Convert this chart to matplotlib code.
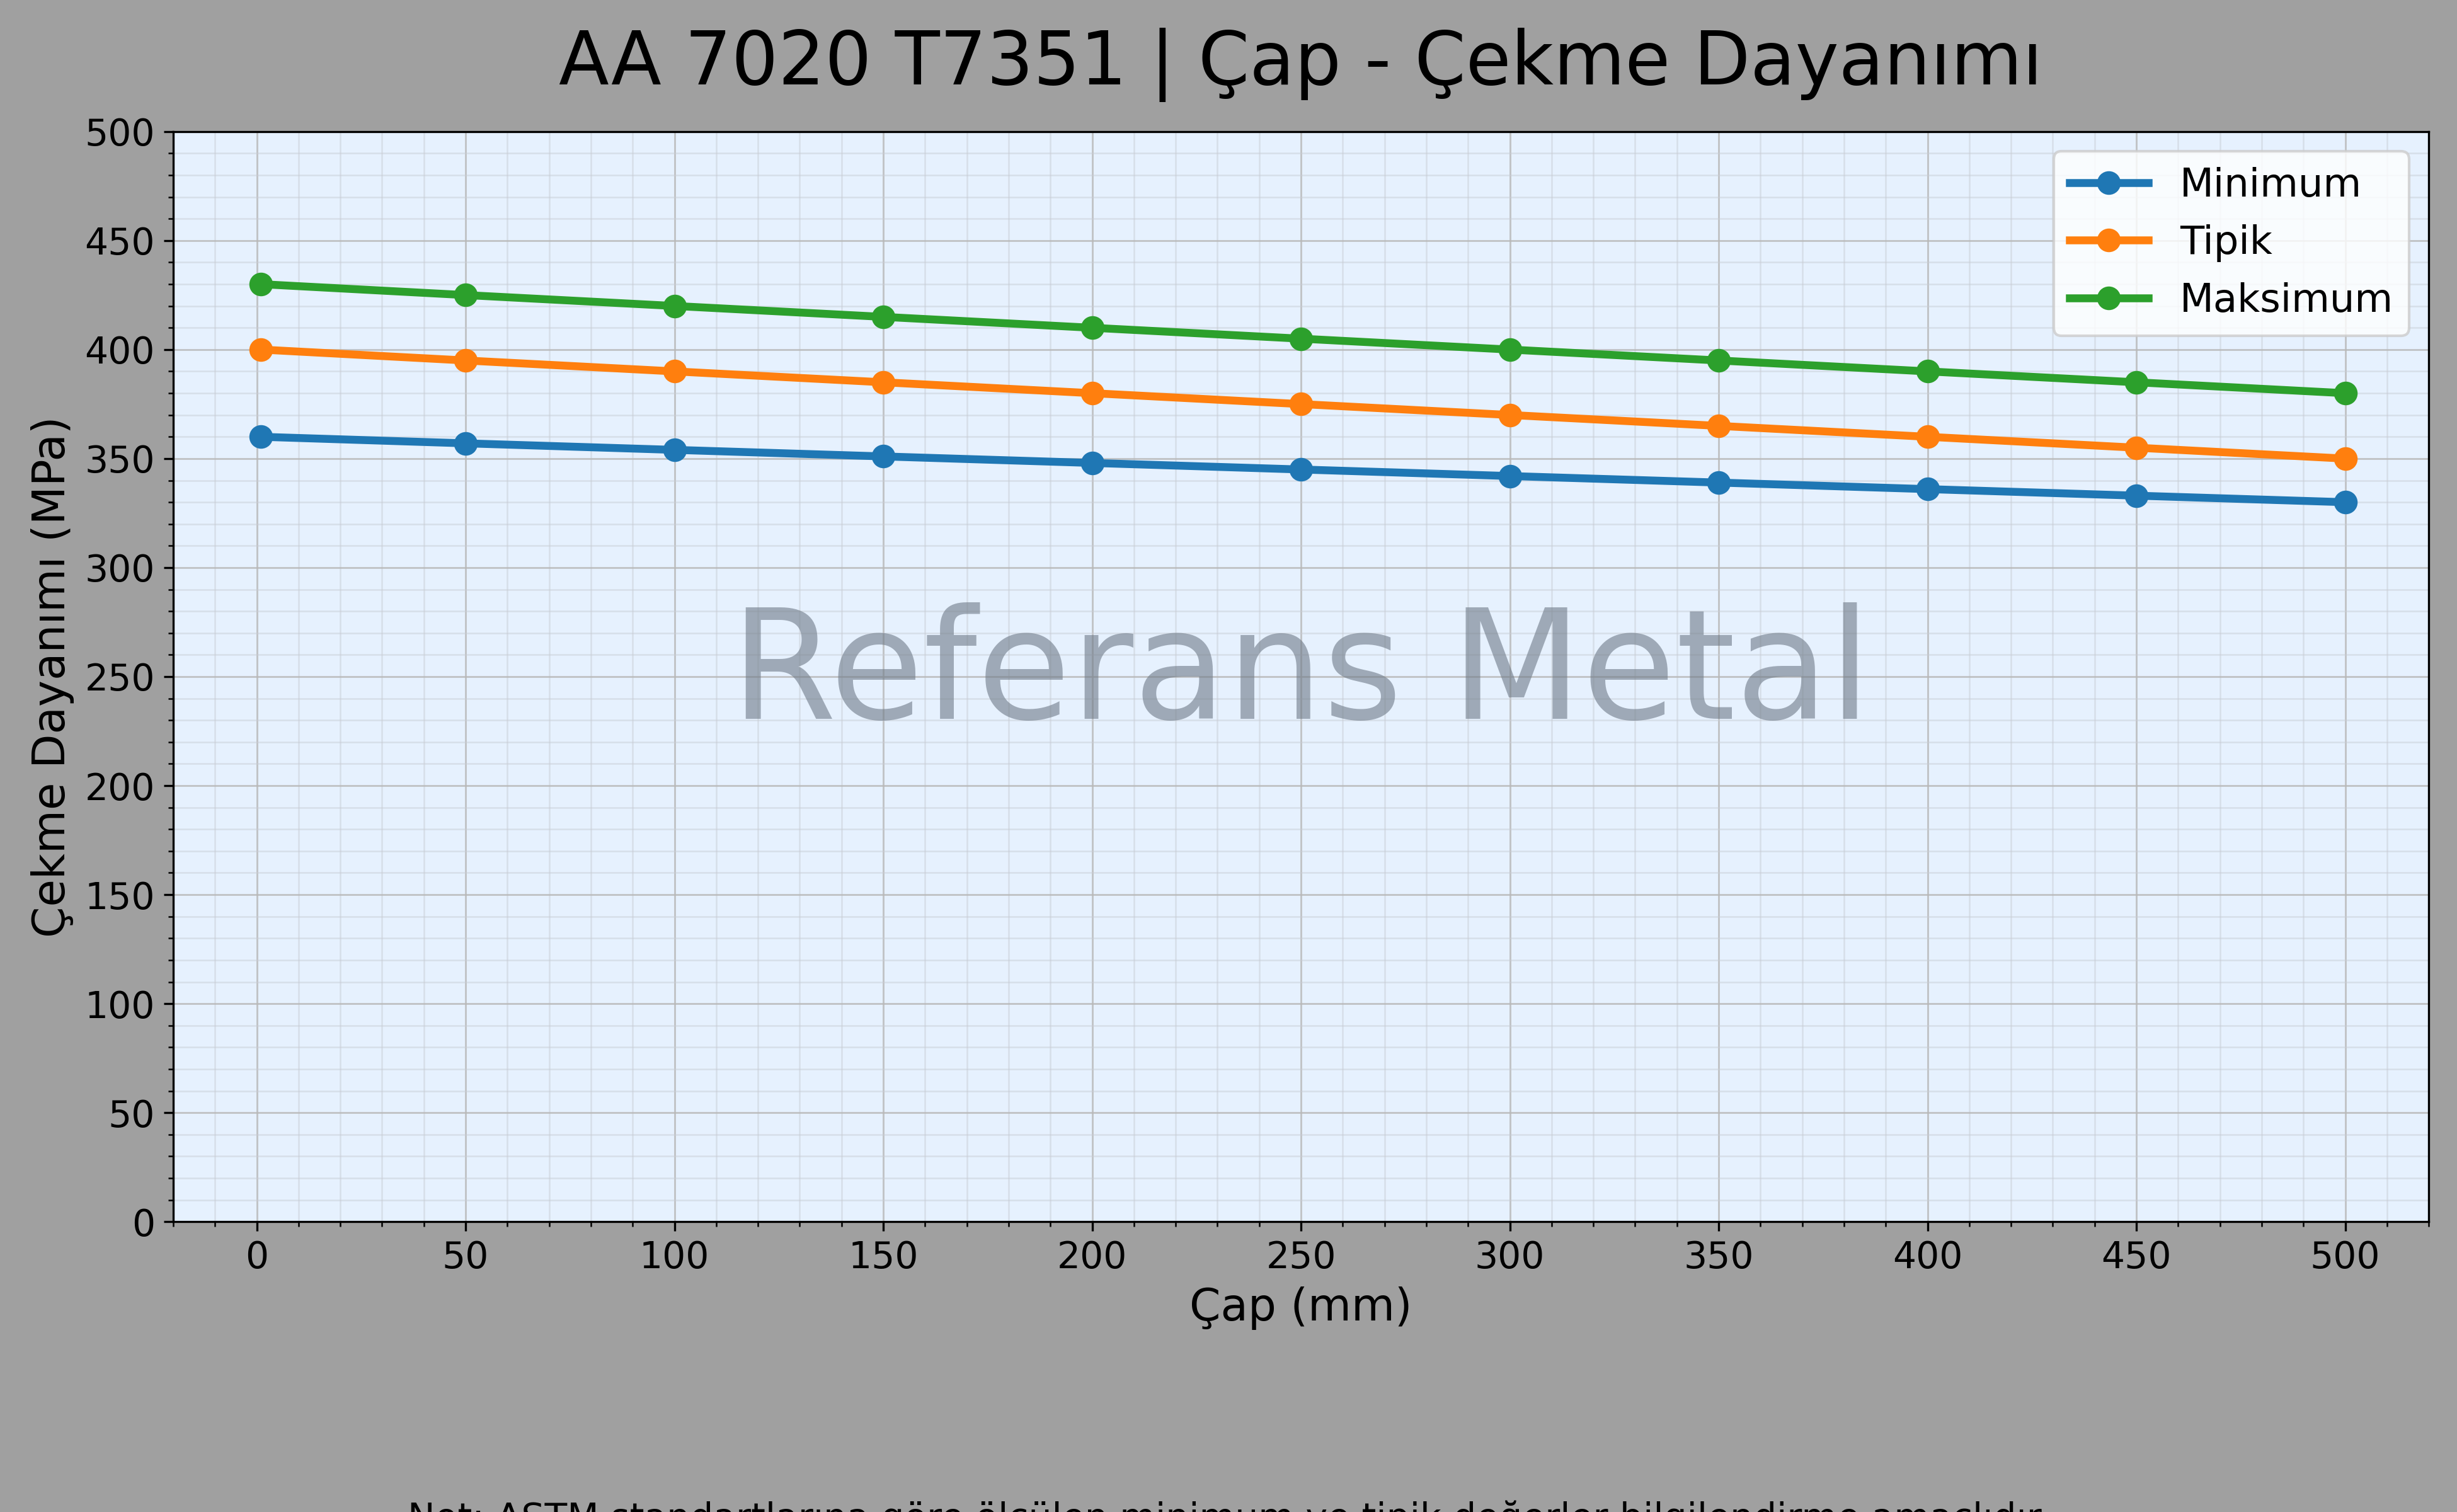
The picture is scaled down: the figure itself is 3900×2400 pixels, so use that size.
import numpy as np
import matplotlib.pyplot as plt
from matplotlib.ticker import MultipleLocator

# Çap değerleri (mm)
cap_mm = [1, 50, 100, 150, 200, 250, 300, 350, 400, 450, 500]

# Çekme dayanımı değerleri (MPa)
minimum = [360, 357, 354, 351, 348, 345, 342, 339, 336, 333, 330]
tipik = [400, 395, 390, 385, 380, 375, 370, 365, 360, 355, 350]
maksimum = [430, 425, 420, 415, 410, 405, 400, 395, 390, 385, 380]

seriler = [('Minimum', minimum, '#1f77b4'),
           ('Tipik', tipik, '#ff7f0e'),
           ('Maksimum', maksimum, '#2ca02c')]

fig = plt.figure(figsize=(13, 8), dpi=300, facecolor='#a0a0a0')
ax = fig.add_axes([0.0705, 0.192, 0.918, 0.721])
ax.set_facecolor('#e6f1fe')

for ad, degerler, renk in seriler:
    ax.plot(cap_mm, degerler, marker='o', color=renk, linewidth=3, markersize=8, label=ad, zorder=3)

ax.set_xlim(-20, 520)
ax.set_ylim(0, 500)
ax.xaxis.set_major_locator(MultipleLocator(50))
ax.yaxis.set_major_locator(MultipleLocator(50))
ax.xaxis.set_minor_locator(MultipleLocator(10))
ax.yaxis.set_minor_locator(MultipleLocator(10))
ax.grid(True, which='major', color='#b8b8b8', linewidth=0.7, alpha=0.8)
ax.grid(True, which='minor', color='#c8ccd4', linewidth=0.6, alpha=0.5)
ax.tick_params(axis='both', which='major', labelsize=14)

# Filigran
ax.text(0.5, 0.5, 'Referans Metal', transform=ax.transAxes, fontsize=58,
        color='#6f7a88', alpha=0.6, ha='center', va='center', zorder=2)

ax.set_title('AA 7020 T7351 | Çap - Çekme Dayanımı', fontsize=28, pad=18)
ax.set_xlabel('Çap (mm)', fontsize=17)
ax.set_ylabel('Çekme Dayanımı (MPa)', fontsize=17)
ax.legend(loc='upper right', fontsize=15)

fig.text(0.5, 0.0075, 'Not: ASTM standartlarına göre ölçülen minimum ve tipik değerler bilgilendirme amaçlıdır.',
         ha='center', va='top', fontsize=14)

fig.savefig('out.png', dpi=300, facecolor=fig.get_facecolor())
